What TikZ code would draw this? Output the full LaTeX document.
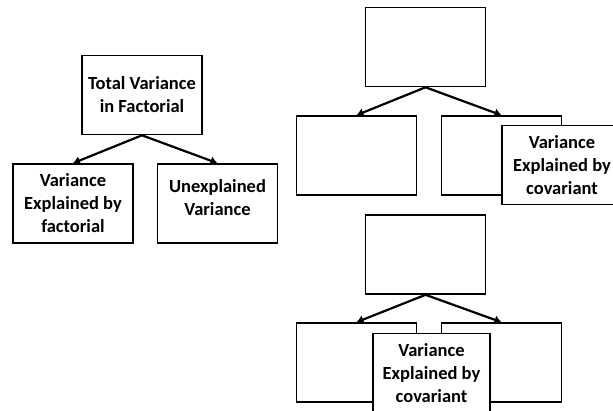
\documentclass[tikz,border=0pt]{standalone}
\usepackage{fontspec}
\setmainfont{Carlito}
\usetikzlibrary{shapes,arrows.meta}

\begin{document}
\begin{tikzpicture}[x=1pt,y=-1pt,
		box/.style={draw,line width=1.6pt,fill=white,minimum width=120pt,minimum height=79pt,align=center,inner sep=2pt,
			font=\fontsize{18.5}{23}\selectfont\bfseries},
		link/.style={line width=2.2pt,-{Latex[length=7pt,width=9pt]}}]
			\useasboundingbox (0,0) rectangle (613,411);
			\clip (0,0) rectangle (613,411);
			% left tree
			\node[box] (total) at (142,95) {Total Variance\\in Factorial};
			\node[box] (expl) at (73,203.5) {Variance\\Explained by\\factorial};
			\node[box] (unexpl) at (217.5,203.5) {Unexplained\\Variance\\[-11pt]};
			\draw[link] (total.south) -- (expl.north);
			\draw[link] (total.south) -- (unexpl.north);
			% upper right tree
			\node[box] (utop) at (425.5,47) {};
			\node[box] (uleft) at (356.5,155.5) {};
			\node[box] (uright) at (501.5,155.5) {};
			\draw[link] (utop.south) -- (uleft.north);
			\draw[link] (utop.south) -- (uright.north);
			\node[box] (ucov) at (562,165) {Variance\\Explained by\\covariant};
			% lower right tree
			\node[box] (ltop) at (425.5,254.5) {};
			\node[box] (lleft) at (356.5,362.5) {};
			\node[box] (lright) at (501.5,362.5) {};
			\draw[link] (ltop.south) -- (lleft.north);
			\draw[link] (ltop.south) -- (lright.north);
			\node[box,minimum width=117pt] (lcov) at (431.5,373) {Variance\\Explained by\\covariant};
		\end{tikzpicture}
\end{document}
